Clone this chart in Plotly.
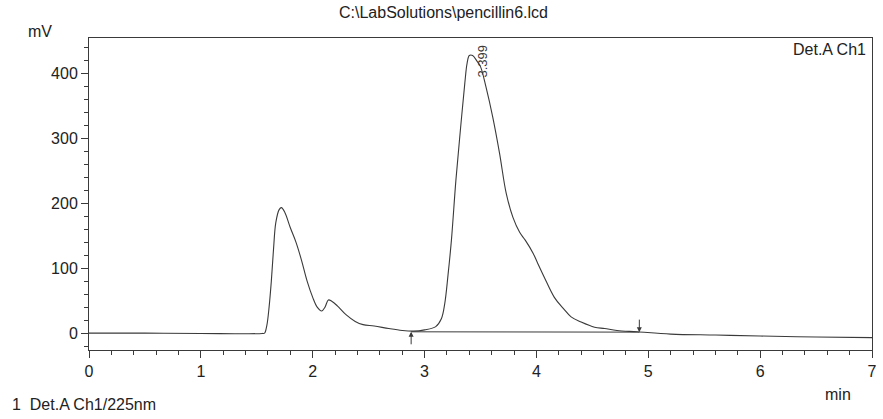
import plotly.graph_objects as go

# Chromatogram signal (min, mV)
time_min = [0.0, 0.5, 1.0, 1.43, 1.55, 1.57, 1.59, 1.61, 1.63, 1.65, 1.67, 1.70, 1.72, 1.75,
            1.80, 1.85, 1.90, 1.95, 2.00, 2.04, 2.08, 2.11, 2.14, 2.17, 2.22, 2.30, 2.38,
            2.45, 2.55, 2.68, 2.80, 2.90, 3.00, 3.10, 3.15, 3.18, 3.21, 3.24, 3.28, 3.32,
            3.36, 3.38, 3.40, 3.43, 3.47, 3.50, 3.55, 3.61, 3.67, 3.73, 3.79, 3.85, 3.90,
            3.97, 4.01, 4.07, 4.16, 4.24, 4.31, 4.40, 4.52, 4.61, 4.72, 4.90, 5.2, 5.6,
            6.0, 6.5, 7.0]
signal_mv = [0, 0, -0.5, -1, -0.5, 0, 12, 40, 80, 130, 170, 190, 193, 186,
             162, 140, 112, 80, 55, 40, 34, 40, 51, 49, 42, 28, 18,
             13, 11, 7, 4, 3, 5, 10, 22, 45, 90, 143, 235, 312,
             385, 415, 427, 427, 418, 410, 378, 332, 277, 215, 178, 155, 143,
             123, 108, 86, 55, 38, 25, 17, 9, 7, 4, 2, -1.5, -3,
             -4.5, -6, -7]

# Integration baseline
base_t = [2.88, 4.92]
base_v = [2, 1.5]

peak_rt = 3.399
peak_label = "3.399"

x_ticks = [0, 1, 2, 3, 4, 5, 6, 7]
y_ticks = [0, 100, 200, 300, 400]

ink = "#3a3a3a"
font_family = "Liberation Sans, Arial, sans-serif"

fig = go.Figure()
fig.add_trace(go.Scatter(x=time_min, y=signal_mv, mode="lines",
                         line=dict(color=ink, width=1.1, shape="spline", smoothing=1.0),
                         showlegend=False, hoverinfo="skip"))
fig.add_trace(go.Scatter(x=base_t, y=base_v, mode="lines",
                         line=dict(color=ink, width=1),
                         showlegend=False, hoverinfo="skip"))

# baseline start / end markers
fig.add_annotation(x=base_t[0], y=base_v[0], ax=0, ay=14, showarrow=True,
                   arrowhead=2, arrowsize=1, arrowwidth=1, arrowcolor=ink, text="")
fig.add_annotation(x=base_t[1], y=base_v[1], ax=0, ay=-14, showarrow=True,
                   arrowhead=2, arrowsize=1, arrowwidth=1, arrowcolor=ink, text="")

# peak label
fig.add_annotation(x=peak_rt, y=418, text=peak_label, textangle=-90, showarrow=False,
                   xshift=13, font=dict(size=13, color=ink, family=font_family))

txt = dict(color="#222222", family=font_family)
fig.add_annotation(xref="paper", yref="paper", x=0.453, y=1.083, text="C:\\LabSolutions\\pencillin6.lcd",
                   yanchor="middle", showarrow=False, font=dict(size=16, **txt))
fig.add_annotation(xref="paper", yref="paper", x=-0.08, y=1.022, text="mV",
                   yanchor="middle", showarrow=False, font=dict(size=16, **txt))
fig.add_annotation(xref="paper", yref="paper", x=0.995, y=0.962, text="Det.A Ch1",
                   xanchor="right", yanchor="middle", showarrow=False, font=dict(size=16, **txt))
fig.add_annotation(xref="paper", yref="paper", x=0.976, y=-0.144, text="min",
                   yanchor="middle", showarrow=False, font=dict(size=16, **txt))
fig.add_annotation(xref="paper", yref="paper", x=-0.101, y=-0.176, text="1  Det.A Ch1/225nm",
                   xanchor="left", yanchor="middle", showarrow=False, font=dict(size=16, **txt))

fig.update_xaxes(range=[0, 7], tickvals=x_ticks, ticks="outside", ticklen=7, tickwidth=1,
                 tickcolor=ink, showline=True, linecolor=ink, linewidth=1, mirror=True,
                 showgrid=False, zeroline=False,
                 minor=dict(dtick=0.2, tick0=0, ticks="outside", ticklen=4, tickcolor=ink),
                 tickfont=dict(size=16, **txt))
fig.update_yaxes(range=[-26, 454], tickvals=y_ticks, ticks="outside", ticklen=7, tickwidth=1,
                 tickcolor=ink, showline=True, linecolor=ink, linewidth=1, mirror=True,
                 showgrid=False, zeroline=False,
                 minor=dict(dtick=20, tick0=0, ticks="outside", ticklen=4, tickcolor=ink),
                 tickfont=dict(size=16, **txt))

fig.update_layout(width=883, height=419, margin=dict(l=89, r=6, t=38, b=69),
                  plot_bgcolor="white", paper_bgcolor="white",
                  font=dict(family=font_family))

fig.write_html("out.html")
